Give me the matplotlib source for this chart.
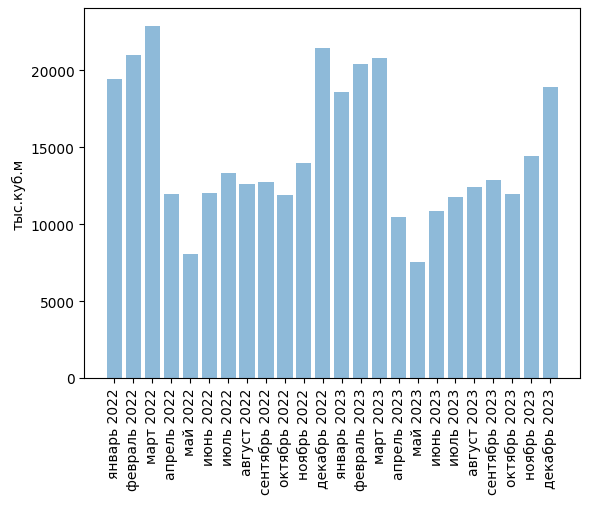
import matplotlib
matplotlib.use("Agg")
import matplotlib.pyplot as plt

months = ["январь", "февраль", "март", "апрель", "май", "июнь", "июль",
          "август", "сентябрь", "октябрь", "ноябрь", "декабрь"]
labels = [f"{m} 2022" for m in months] + [f"{m} 2023" for m in months]
values = [19450, 21000, 22900, 11980, 8060, 12040, 13330, 12620, 12750, 11920, 14000, 21450,
          18600, 20430, 20820, 10470, 7550, 10860, 11770, 12420, 12870, 11970, 14430, 18920]

fig = plt.figure(figsize=(5.89, 5.06), dpi=100)
ax = fig.add_axes([84.3/589, 1-379/506, (580.3-84.3)/589, (379-9.3)/506])
ax.bar(labels, values, alpha=0.5)
ax.set_ylabel("тыс.куб.м")
plt.setp(ax.get_xticklabels(), rotation=90)
fig.savefig("out.png", dpi=100)
